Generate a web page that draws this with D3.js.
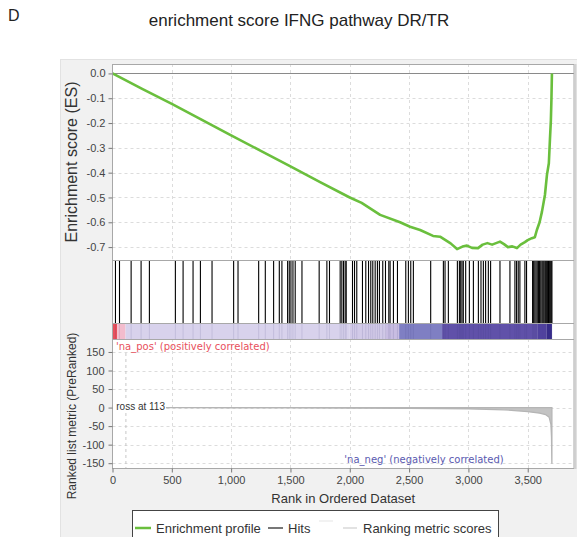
<!DOCTYPE html>
<html><head><meta charset="utf-8">
<script src="https://cdn.jsdelivr.net/npm/d3@7"></script>
<style>body{margin:0;background:#fff}svg{display:block}text{font-family:"Liberation Sans",Arial,sans-serif}</style>
</head><body><svg id="c" width="577" height="537"></svg>
<script>
// ---------- data ----------
const xTicks = [0, 500, 1000, 1500, 2000, 2500, 3000, 3500];
const esTicks = [0, -0.1, -0.2, -0.3, -0.4, -0.5, -0.6, -0.7];
const metricTicks = [150, 100, 50, 0, -50, -100, -150];

const esRanks  = [0, 250, 500, 750, 1000, 1250, 1500, 1750, 2000, 2100, 2256, 2424, 2508, 2593, 2702, 2761, 2850, 2904, 2950, 2988, 3030, 3081, 3120, 3160, 3200, 3266, 3300, 3333, 3370, 3409, 3440, 3476, 3500, 3535, 3560, 3577, 3600, 3620, 3645, 3662, 3678, 3687, 3695, 3700, 3704];
const esValues = [0, -0.062, -0.123, -0.186, -0.25, -0.312, -0.375, -0.438, -0.5, -0.522, -0.57, -0.6, -0.618, -0.631, -0.655, -0.658, -0.685, -0.708, -0.698, -0.694, -0.703, -0.704, -0.69, -0.684, -0.69, -0.678, -0.688, -0.7, -0.697, -0.704, -0.69, -0.68, -0.672, -0.664, -0.66, -0.631, -0.6, -0.557, -0.49, -0.409, -0.362, -0.268, -0.19, -0.1, 0];

const hitRanks = [25, 59, 157, 241, 311, 530, 595, 679, 741, 839, 1021, 1058, 1232, 1288, 1358, 1406, 1428, 1476, 1490, 1504, 1521, 1540, 1597, 1742, 1807, 1829, 1919, 1933, 1947, 1961, 1970, 2023, 2040, 2059, 2107, 2135, 2158, 2177, 2194, 2214, 2233, 2250, 2278, 2301, 2329, 2340, 2368, 2402, 2472, 2494, 2514, 2536, 2682, 2789, 2803, 2831, 2907, 2924, 2935, 2946, 2957, 2977, 3008, 3042, 3084, 3106, 3126, 3145, 3168, 3187, 3266, 3350, 3392, 3406, 3420, 3434, 3476, 3490, 3541, 3550, 3560, 3570, 3580, 3590, 3600, 3610, 3620, 3628, 3636, 3645, 3652, 3660, 3668, 3675, 3682, 3690, 3698, 3704];

const metricRanks  = [0, 60, 113, 500, 1000, 1500, 2000, 2500, 3000, 3300, 3500, 3600, 3650, 3680, 3695, 3700, 3703, 3704];
const metricValues = [4, 1.5, 0, -0.4, -0.7, -1, -1.5, -2.2, -3.5, -6, -11, -15, -19, -26, -45, -80, -150, -150];

const barStarts = [0, 40, 110, 2000, 2300, 2416, 2778, 3580, 3660];
const barEnds   = [40, 110, 2000, 2300, 2416, 2778, 3580, 3660, 3704];
const barColors = ["#e8505c", "#f3bccd", "#d8d2ec", "#d2cae8", "#c8bde2", "#7f7fc3", "#6051a9", "#5545a4", "#3a2c8e"];

const zeroCross = 113;

// ---------- layout ----------
const svg = d3.select("#c");
const L = 112.5, R = 574, esTop = 64, esBot = 260, hitBot = 323, barBot = 339, rkBot = 468;

svg.append("rect").attr("x", 60).attr("y", 59).attr("width", 517).attr("height", 478).attr("fill", "#f1f1f1");
svg.append("rect").attr("x", 60.5).attr("y", 59.5).attr("width", 517).attr("height", 478).attr("fill", "none").attr("stroke", "#e2e2e2");

svg.append("text").attr("x", 8).attr("y", 21).attr("font-size", 16).attr("fill", "#222").text("D");
svg.append("text").attr("x", 299).attr("y", 26).attr("text-anchor", "middle").attr("font-size", 17).attr("fill", "#222").text("enrichment score IFNG pathway DR/TR");

const x = d3.scaleLinear().domain([0, 3890]).range([L, R]);
const yEs = d3.scaleLinear().domain([-0.752, 0.038]).range([esBot, esTop]);
const yRk = d3.scaleLinear().domain([-163, 185]).range([rkBot, barBot]);

svg.append("rect").attr("x", L).attr("y", esTop).attr("width", R - L).attr("height", rkBot - esTop).attr("fill", "#fff");

const grid = svg.append("g").attr("stroke", "#dcdcdc").attr("stroke-dasharray", "3,3").attr("stroke-width", 1);
xTicks.filter(d => d > 0).forEach(t => {
  grid.append("line").attr("x1", Math.round(x(t)) + 0.5).attr("x2", Math.round(x(t)) + 0.5).attr("y1", esTop).attr("y2", esBot);
  grid.append("line").attr("x1", Math.round(x(t)) + 0.5).attr("x2", Math.round(x(t)) + 0.5).attr("y1", barBot).attr("y2", rkBot);
});
esTicks.forEach(t => grid.append("line").attr("x1", L).attr("x2", R).attr("y1", Math.round(yEs(t)) + 0.5).attr("y2", Math.round(yEs(t)) + 0.5));
metricTicks.forEach(t => grid.append("line").attr("x1", L).attr("x2", R).attr("y1", Math.round(yRk(t)) + 0.5).attr("y2", Math.round(yRk(t)) + 0.5));

svg.append("line").attr("x1", L).attr("x2", R).attr("y1", Math.round(yEs(0)) + 0.5).attr("y2", Math.round(yEs(0)) + 0.5).attr("stroke", "#8a8a8a").attr("stroke-width", 1);

const esData = esRanks.map((r, i) => [r, esValues[i]]);
svg.append("path").datum(esData)
  .attr("d", d3.line().x(d => x(d[0])).y(d => yEs(d[1])))
  .attr("fill", "none").attr("stroke", "#6abf3d").attr("stroke-width", 2.6).attr("stroke-linejoin", "round");

svg.selectAll("rect.band").data(barStarts).join("rect").attr("class", "band")
  .attr("x", (d) => x(d)).attr("width", (d, i) => x(barEnds[i]) - x(d))
  .attr("y", hitBot).attr("height", barBot - hitBot).attr("fill", (d, i) => barColors[i]);

svg.append("g").selectAll("line").data(hitRanks).join("line")
  .attr("x1", d => x(d)).attr("x2", d => x(d)).attr("y1", esBot).attr("y2", hitBot)
  .attr("stroke", "#000").attr("stroke-width", 1.1);
svg.append("g").selectAll("line").data(hitRanks).join("line")
  .attr("x1", d => x(d)).attr("x2", d => x(d)).attr("y1", hitBot).attr("y2", barBot)
  .attr("stroke", "#303070").attr("stroke-width", 1).attr("opacity", 0.12);

const mData = metricRanks.map((r, i) => [r, metricValues[i]]);
svg.append("path").datum(mData)
  .attr("d", d3.area().x(d => x(d[0])).y0(yRk(0)).y1(d => yRk(d[1])))
  .attr("fill", "#c3c3c3").attr("stroke", "#b5b5b5").attr("stroke-width", 1.2);
svg.append("line").attr("x1", x(zeroCross)).attr("x2", x(zeroCross)).attr("y1", 353).attr("y2", rkBot)
  .attr("stroke", "#c8c8c8").attr("stroke-dasharray", "3,3");
svg.append("rect").attr("x", L + 0.5).attr("y", 401).attr("width", 53).attr("height", 11).attr("fill", "#fff");
svg.append("text").attr("x", 165).attr("y", 410).attr("text-anchor", "end").attr("font-size", 10).attr("fill", "#333").text("ross at " + zeroCross);

svg.append("text").attr("x", 116).attr("y", 350).attr("font-size", 10).attr("fill", "#e8505c")
  .style("font-family", "'DejaVu Sans', Verdana, sans-serif").text("'na_pos' (positively correlated)");
svg.append("text").attr("x", 424).attr("y", 463).attr("text-anchor", "middle").attr("font-size", 10).attr("fill", "#5a5ab0")
  .style("font-family", "'DejaVu Sans', Verdana, sans-serif").text("'na_neg' (negatively correlated)");

const fr = svg.append("g").attr("fill", "none").attr("stroke", "#a8a8a8");
fr.append("rect").attr("x", L).attr("y", esTop + 0.5).attr("width", R - L).attr("height", rkBot - esTop);
[esBot, hitBot, barBot].forEach(yy => fr.append("line").attr("x1", L).attr("x2", R).attr("y1", yy + 0.5).attr("y2", yy + 0.5));
svg.append("line").attr("x1", R + 1.5).attr("x2", R + 1.5).attr("y1", esTop).attr("y2", rkBot + 1).attr("stroke", "#d0d0d0").attr("stroke-width", 2);

function styleAxis(g) {
  g.select(".domain").remove();
  g.selectAll(".tick line").attr("stroke", "#777");
  g.selectAll(".tick text").attr("fill", "#444").attr("font-size", 11).style("font-family", "'Liberation Sans', Arial, sans-serif");
}
svg.append("g").attr("transform", `translate(${L},0)`)
  .call(d3.axisLeft(yEs).tickValues(esTicks).tickSize(4).tickPadding(3).tickFormat(d => d.toFixed(1))).call(styleAxis);
svg.append("g").attr("transform", `translate(${L},0)`)
  .call(d3.axisLeft(yRk).tickValues(metricTicks).tickSize(4).tickPadding(4).tickFormat(d => String(d))).call(styleAxis);
svg.append("g").attr("transform", `translate(0,${rkBot + 0.5})`)
  .call(d3.axisBottom(x).tickValues(xTicks).tickSize(4).tickPadding(4).tickFormat(d3.format(","))).call(styleAxis);

svg.append("text").attr("transform", "translate(77,162) rotate(-90)").attr("text-anchor", "middle").attr("font-size", 16).attr("fill", "#333").text("Enrichment score (ES)");
svg.append("text").attr("transform", "translate(76,416) rotate(-90)").attr("text-anchor", "middle").attr("font-size", 12).attr("fill", "#333").text("Ranked list metric (PreRanked)");
svg.append("text").attr("x", (L + R) / 2).attr("y", 503).attr("text-anchor", "middle").attr("font-size", 13).attr("fill", "#333").text("Rank in Ordered Dataset");

const lg = svg.append("g");
lg.append("rect").attr("x", 132.5).attr("y", 510.5).attr("width", 366).attr("height", 32).attr("fill", "#fff").attr("stroke", "#444");
lg.append("line").attr("x1", 135).attr("x2", 151).attr("y1", 528).attr("y2", 528).attr("stroke", "#6abf3d").attr("stroke-width", 2.5);
lg.append("text").attr("x", 156).attr("y", 533).attr("font-size", 13).attr("fill", "#333").text("Enrichment profile");
lg.append("line").attr("x1", 268).attr("x2", 283).attr("y1", 528).attr("y2", 528).attr("stroke", "#777").attr("stroke-width", 2);
lg.append("text").attr("x", 288).attr("y", 533).attr("font-size", 13).attr("fill", "#333").text("Hits");
lg.append("line").attr("x1", 319).attr("x2", 333).attr("y1", 521).attr("y2", 521).attr("stroke", "#f2f2f2").attr("stroke-width", 2);
lg.append("line").attr("x1", 343).attr("x2", 357).attr("y1", 528).attr("y2", 528).attr("stroke", "#e2e2e2").attr("stroke-width", 2);
lg.append("text").attr("x", 363).attr("y", 533).attr("font-size", 13).attr("fill", "#333").text("Ranking metric scores");
</script></body></html>
